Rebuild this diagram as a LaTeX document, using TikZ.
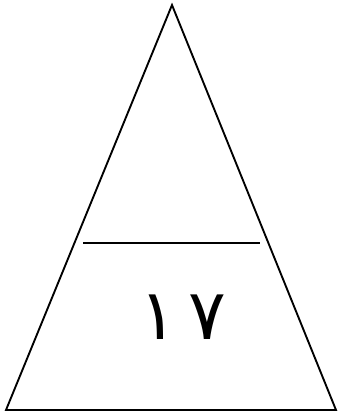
\documentclass[tikz,border=0pt]{standalone}
\usepackage{fontspec}
\newfontfamily\arabicfont[Script=Arabic]{DejaVu Sans}
\usetikzlibrary{positioning}

\begin{document}
\begin{tikzpicture}[
  x=0.03cm, y=-0.03cm,
  edge/.style={line width=1.6pt, line join=miter},
  digits/.style={font=\arabicfont\fontsize{60}{64}\selectfont, inner sep=0pt},
]
\useasboundingbox (0,0) rectangle (339,412);

% triangle
\coordinate (apex) at (172,5);
\coordinate (bl)   at (6,410);
\coordinate (br)   at (336,410);
\draw[edge] (apex) -- (bl) -- (br) -- cycle;

% divider
\coordinate (ml) at (83,243);
\coordinate (mr) at (260,243);
\draw[edge] (ml) -- (mr);

\node[digits] (num) at (183,317) {١\,٧};

\end{tikzpicture}
\end{document}
